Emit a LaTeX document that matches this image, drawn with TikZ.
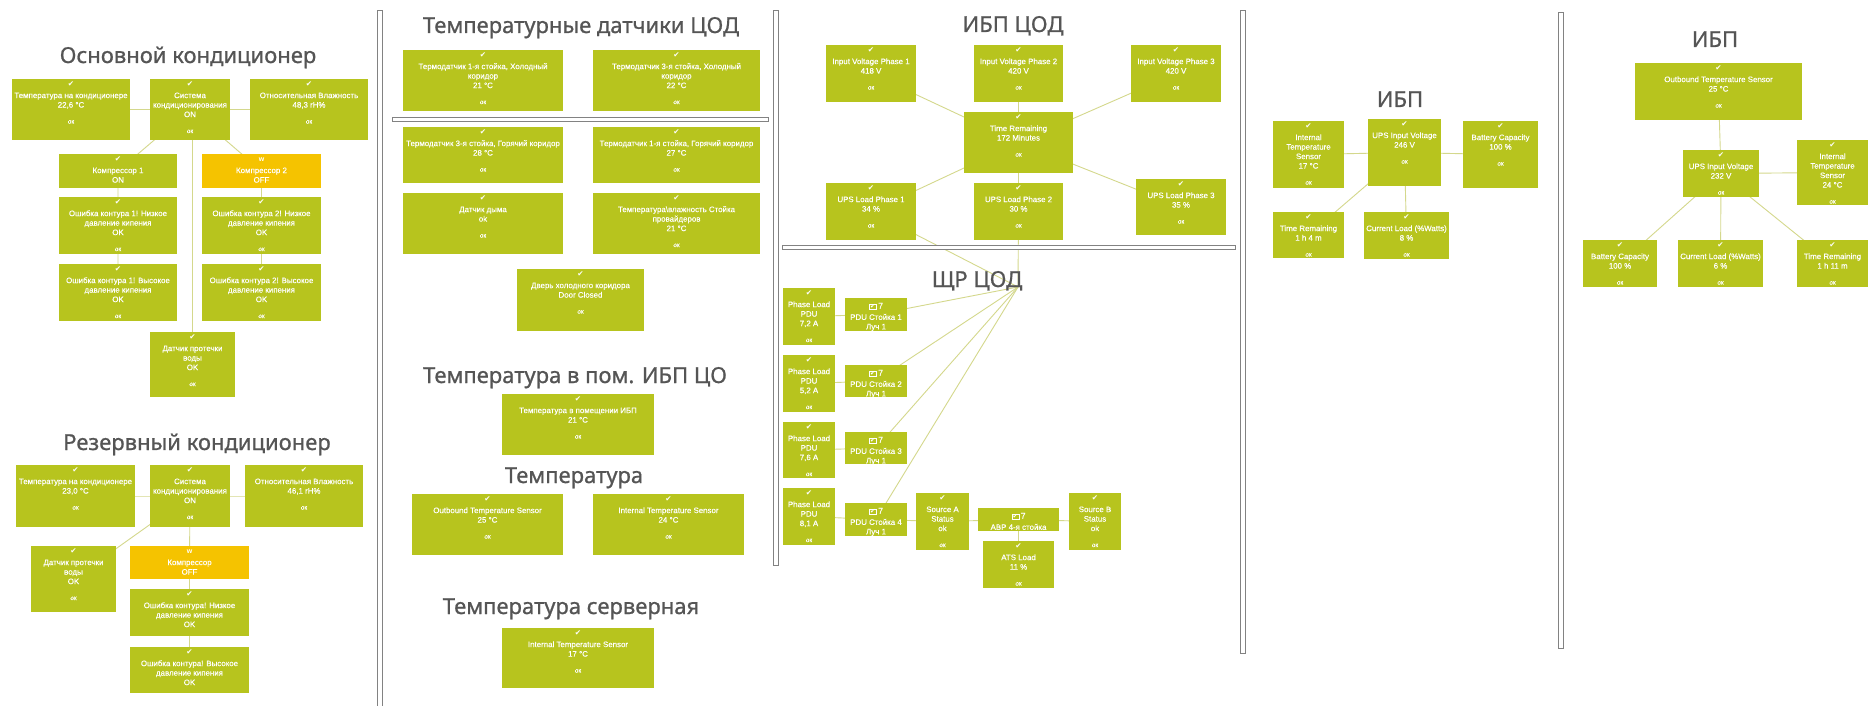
\documentclass[tikz,border=0pt]{standalone}
\usepackage{fontspec}
\setmainfont{Liberation Sans}
\newfontfamily\boxfont[FakeBold=0.35]{Liberation Sans}
\newfontfamily\titlefont[FakeBold=0.9]{Noto Sans}
\newfontfamily\symfont{DejaVu Sans}
\usetikzlibrary{backgrounds}

\definecolor{boxgreen}{RGB}{183,196,30}
\definecolor{boxorange}{RGB}{245,195,0}
\definecolor{wirecol}{RGB}{212,216,140}
\definecolor{titlegray}{RGB}{85,85,85}
\definecolor{sepgray}{RGB}{130,130,130}

\tikzset{
  gb/.style={rectangle, fill=boxgreen, draw=none, inner sep=0pt, outer sep=0pt},
  warnbox/.style={fill=boxorange},
  bt/.style={text=white, font=\boxfont\fontsize{7.9}{9.5}\selectfont, align=center, inner sep=0pt},
  okt/.style={text=white, font=\boxfont\fontsize{6.3}{7}\selectfont, inner sep=0pt},
  ck/.style={text=white, font=\symfont\fontsize{7.5}{8}\selectfont, inner sep=0pt},
  wk/.style={text=white, font=\bfseries\fontsize{7}{8}\selectfont, inner sep=0pt},
  pk/.style={text=white, font=\boxfont\fontsize{8.5}{9}\selectfont, inner sep=0pt},
  ttl/.style={text=titlegray, font=\titlefont\fontsize{22}{26}\selectfont, inner sep=0pt, anchor=base},
  wire/.style={draw=wirecol, line width=0.9pt},
  sepbar/.style={draw=sepgray, fill=white, line width=0.8pt},
}

% box body from its corners (x1,y1,x2,y2)
\newcommand\gbox[6][]{%
  \node[gb,#1,minimum width={(#5-#3)*1pt},minimum height={(#6-#4)*1pt}]
    (#2) at ({(#3+#5)/2},{(#4+#6)/2}) {};}
% caption lines, first line below the icon
\newcommand\btxt[3][12.25]{%
  \node[bt,anchor=north] (#2-t) at ([yshift=-#1pt]#2.north) {\strut #3\strut};}
\newcommand\bok[1]{\node[okt] (#1-ok) at ([yshift=-11.25pt]#1-t.south) {ок};}
\newcommand\bchk[1]{\node[ck] (#1-c) at ([yshift=-5.5pt]#1.north) {✔};}
\newcommand\pduicon{{\setlength\fboxsep{0.6pt}\setlength\fboxrule{0.6pt}%
  \fbox{\symfont\fontsize{6.5}{7}\selectfont ✔}}\,7}

\newcommand\sensor[6]{\gbox{#1}{#2}{#3}{#4}{#5}\bchk{#1}\btxt{#1}{#6}\bok{#1}}
\newcommand\sensorn[6]{\gbox{#1}{#2}{#3}{#4}{#5}\bchk{#1}\btxt{#1}{#6}}
\newcommand\warnsensor[6]{\gbox[warnbox]{#1}{#2}{#3}{#4}{#5}%
  \node[wk] (#1-c) at ([yshift=-5.5pt]#1.north) {w};\btxt{#1}{#6}}
\newcommand\pdubox[6]{\gbox{#1}{#2}{#3}{#4}{#5}%
  \node[pk] (#1-c) at ([yshift=-8.5pt]#1.north) {\pduicon};\btxt[15]{#1}{#6}}

\begin{document}
\begin{tikzpicture}[x=1pt,y=-1pt]
\useasboundingbox (0,0) rectangle (1870,706);

% column separators
\draw[sepbar] (377,10) rectangle (382,712);
\draw[sepbar] (773,10) rectangle (778,565);
\draw[sepbar] (1240,10) rectangle (1245,653);
\draw[sepbar] (1558,12) rectangle (1563,648);
\draw[sepbar] (392,117) rectangle (768,121);
\draw[sepbar] (782,245) rectangle (1235,249);

% ---------- main air conditioner ----------
\node[ttl] (t1) at (188,63) {Основной кондиционер};
\sensor{a1}{12}{79}{130}{140}{Температура на кондиционере\\22,6 °C}
\sensor{a2}{150}{79}{230}{140}{Система\\кондиционирования\\ON}
\sensor{a3}{250}{79}{368}{140}{Относительная Влажность\\48,3 rH\%}
\sensorn{k1}{59}{154}{177}{188}{Компрессор 1\\ON}
\warnsensor{k2}{202}{154}{321}{188}{Компрессор 2\\OFF}
\sensor{e1l}{59}{197}{177}{254}{Ошибка контура 1! Низкое\\давление кипения\\OK}
\sensor{e2l}{202}{197}{321}{254}{Ошибка контура 2! Низкое\\давление кипения\\OK}
\sensor{e1h}{59}{264}{177}{321}{Ошибка контура 1! Высокое\\давление кипения\\OK}
\sensor{e2h}{202}{264}{321}{321}{Ошибка контура 2! Высокое\\давление кипения\\OK}
\sensor{w1}{150}{332}{235}{397}{Датчик протечки\\воды\\OK}

% ---------- backup air conditioner ----------
\node[ttl] (t2) at (197,450) {Резервный кондиционер};
\sensor{b1}{16}{465}{135}{527}{Температура на кондиционере\\23,0 °C}
\sensor{b2}{150}{465}{230}{527}{Система\\кондиционирования\\ON}
\sensor{b3}{245}{465}{363}{527}{Относительная Влажность\\46,1 rH\%}
\sensor{bw}{31}{546}{116}{612}{Датчик протечки\\воды\\OK}
\warnsensor{bk}{130}{546}{249}{579}{Компрессор\\OFF}
\sensorn{bel}{130}{589}{249}{636}{Ошибка контура! Низкое\\давление кипения\\OK}
\sensorn{beh}{130}{647}{249}{693}{Ошибка контура! Высокое\\давление кипения\\OK}

% ---------- data centre temperature sensors ----------
\node[ttl] (t3) at (581,33) {Температурные датчики ЦОД};
\sensor{s1}{403}{50}{563}{111}{Термодатчик 1-я стойка, Холодный\\коридор\\21 °C}
\sensor{s2}{593}{50}{760}{111}{Термодатчик 3-я стойка, Холодный\\коридор\\22 °C}
\sensor{s3}{403}{127}{563}{183}{Термодатчик 3-я стойка, Горячий коридор\\28 °C}
\sensor{s4}{593}{127}{760}{183}{Термодатчик 1-я стойка, Горячий коридор\\27 °C}
\sensor{s5}{403}{193}{563}{254}{Датчик дыма\\ok}
\sensor{s6}{593}{193}{760}{254}{Температура\textbackslash влажность Стойка\\провайдеров\\21 °C}
\sensor{s7}{517}{269}{644}{331}{Дверь холодного коридора\\Door Closed}
\node[ttl] (t4) at (575,383) {Температура в пом. ИБП ЦО};
\sensor{s8}{502}{394}{654}{455}{Температура в помещении ИБП\\21 °C}
\node[ttl] (t5) at (574,483) {Температура};
\sensor{s9}{412}{494}{563}{555}{Outbound Temperature Sensor\\25 °C}
\sensor{s10}{593}{494}{744}{555}{Internal Temperature Sensor\\24 °C}
\node[ttl] (t6) at (571,614) {Температура серверная};
\sensor{s11}{502}{628}{654}{688}{Internal Temperature Sensor\\17 °C}

% ---------- data centre UPS ----------
\node[ttl] (t7) at (1013,32) {ИБП ЦОД};
\sensor{iv1}{826}{45}{916}{102}{Input Voltage Phase 1\\418 V}
\sensor{iv2}{974}{45}{1063}{102}{Input Voltage Phase 2\\420 V}
\sensor{iv3}{1131}{45}{1221}{102}{Input Voltage Phase 3\\420 V}
\sensor{tr}{964}{112}{1073}{173}{Time Remaining\\172 Minutes}
\sensor{ul1}{826}{183}{916}{240}{UPS Load Phase 1\\34 \%}
\sensor{ul2}{974}{183}{1063}{240}{UPS Load Phase 2\\30 \%}
\sensor{ul3}{1136}{179}{1226}{235}{UPS Load Phase 3\\35 \%}

% ---------- distribution board ----------
\node[ttl] (t8) at (977,287) {ЩР ЦОД};
\coordinate (hub) at (1018,287);
\sensor{pl1}{783}{288}{835}{345}{Phase Load\\PDU\\7,2 A}
\pdubox{pdu1}{845}{298}{907}{331}{PDU Стойка 1\\Луч 1}
\sensor{pl2}{783}{355}{835}{412}{Phase Load\\PDU\\5,2 A}
\pdubox{pdu2}{845}{365}{907}{397}{PDU Стойка 2\\Луч 1}
\sensor{pl3}{783}{422}{835}{478}{Phase Load\\PDU\\7,6 A}
\pdubox{pdu3}{845}{432}{907}{464}{PDU Стойка 3\\Луч 1}
\sensor{pl4}{783}{488}{835}{545}{Phase Load\\PDU\\8,1 A}
\pdubox{pdu4}{845}{503}{907}{536}{PDU Стойка 4\\Луч 1}
\sensor{sa}{916}{493}{969}{550}{Source A\\Status\\ok}
\pdubox{abp}{978}{508}{1059}{531}{АВР 4-я стойка}
\sensor{ats}{983}{541}{1054}{588}{ATS Load\\11 \%}
\sensor{sb}{1069}{493}{1121}{550}{Source B\\Status\\ok}

% ---------- UPS (fourth column) ----------
\node[ttl] (t9) at (1400,107) {ИБП};
\sensor{c4it}{1273}{121}{1344}{188}{Internal\\Temperature\\Sensor\\17 °C}
\sensor{c4uv}{1368}{119}{1441}{186}{UPS Input Voltage\\246 V}
\sensor{c4bc}{1463}{121}{1538}{188}{Battery Capacity\\100 \%}
\sensor{c4tr}{1273}{212}{1344}{258}{Time Remaining\\1 h 4 m}
\sensor{c4cl}{1364}{212}{1449}{259}{Current Load (\%Watts)\\8 \%}

% ---------- UPS (fifth column) ----------
\node[ttl] (t10) at (1715,47) {ИБП};
\sensor{c5ot}{1635}{63}{1802}{120}{Outbound Temperature Sensor\\25 °C}
\sensor{c5uv}{1683}{150}{1759}{197}{UPS Input Voltage\\232 V}
\sensor{c5it}{1797}{140}{1868}{205}{Internal\\Temperature\\Sensor\\24 °C}
\sensor{c5bc}{1583}{240}{1657}{287}{Battery Capacity\\100 \%}
\sensor{c5cl}{1678}{240}{1763}{287}{Current Load (\%Watts)\\6 \%}
\sensor{c5tr}{1797}{240}{1868}{287}{Time Remaining\\1 h 11 m}

% ---------- connectors, behind the boxes ----------
\begin{scope}[on background layer]
  \fill[white] (0,0) rectangle (1870,706);
  \draw[wire] (a1.center) -- (a2.center) -- (a3.center);
  \draw[wire] (a2.center) -- (k1.center) -- (e1l.center) -- (e1h.center);
  \draw[wire] (a2.center) -- (k2.center) -- (e2l.center) -- (e2h.center);
  \draw[wire] (w1.center) -- (w1.center |- a2.center);
  \draw[wire] (b1.center) -- (b2.center) -- (b3.center);
  \draw[wire] (b2.center) -- (bw.center);
  \draw[wire] (b2.center) -- (bk.center) -- (bel.center) -- (beh.center);
  \foreach \n in {iv1,iv2,iv3,ul1,ul2,ul3} \draw[wire] (tr.center) -- (\n.center);
  \draw[wire] (ul1.center) -- (hub);
  \draw[wire] (ul2.center) -- (hub);
  \foreach \n in {pdu1,pdu2,pdu3,pdu4} \draw[wire] (hub) -- (\n.center);
  \foreach \i in {1,2,3,4} \draw[wire] (pl\i.center) -- (pdu\i.center);
  \draw[wire] (pdu4.center) -- (sa.center) -- (abp.center) -- (sb.center);
  \draw[wire] (abp.center) -- (ats.center);
  \foreach \n in {c4it,c4bc,c4tr,c4cl} \draw[wire] (c4uv.center) -- (\n.center);
  \foreach \n in {c5ot,c5it,c5bc,c5cl,c5tr} \draw[wire] (c5uv.center) -- (\n.center);
\end{scope}
\end{tikzpicture}
\end{document}
